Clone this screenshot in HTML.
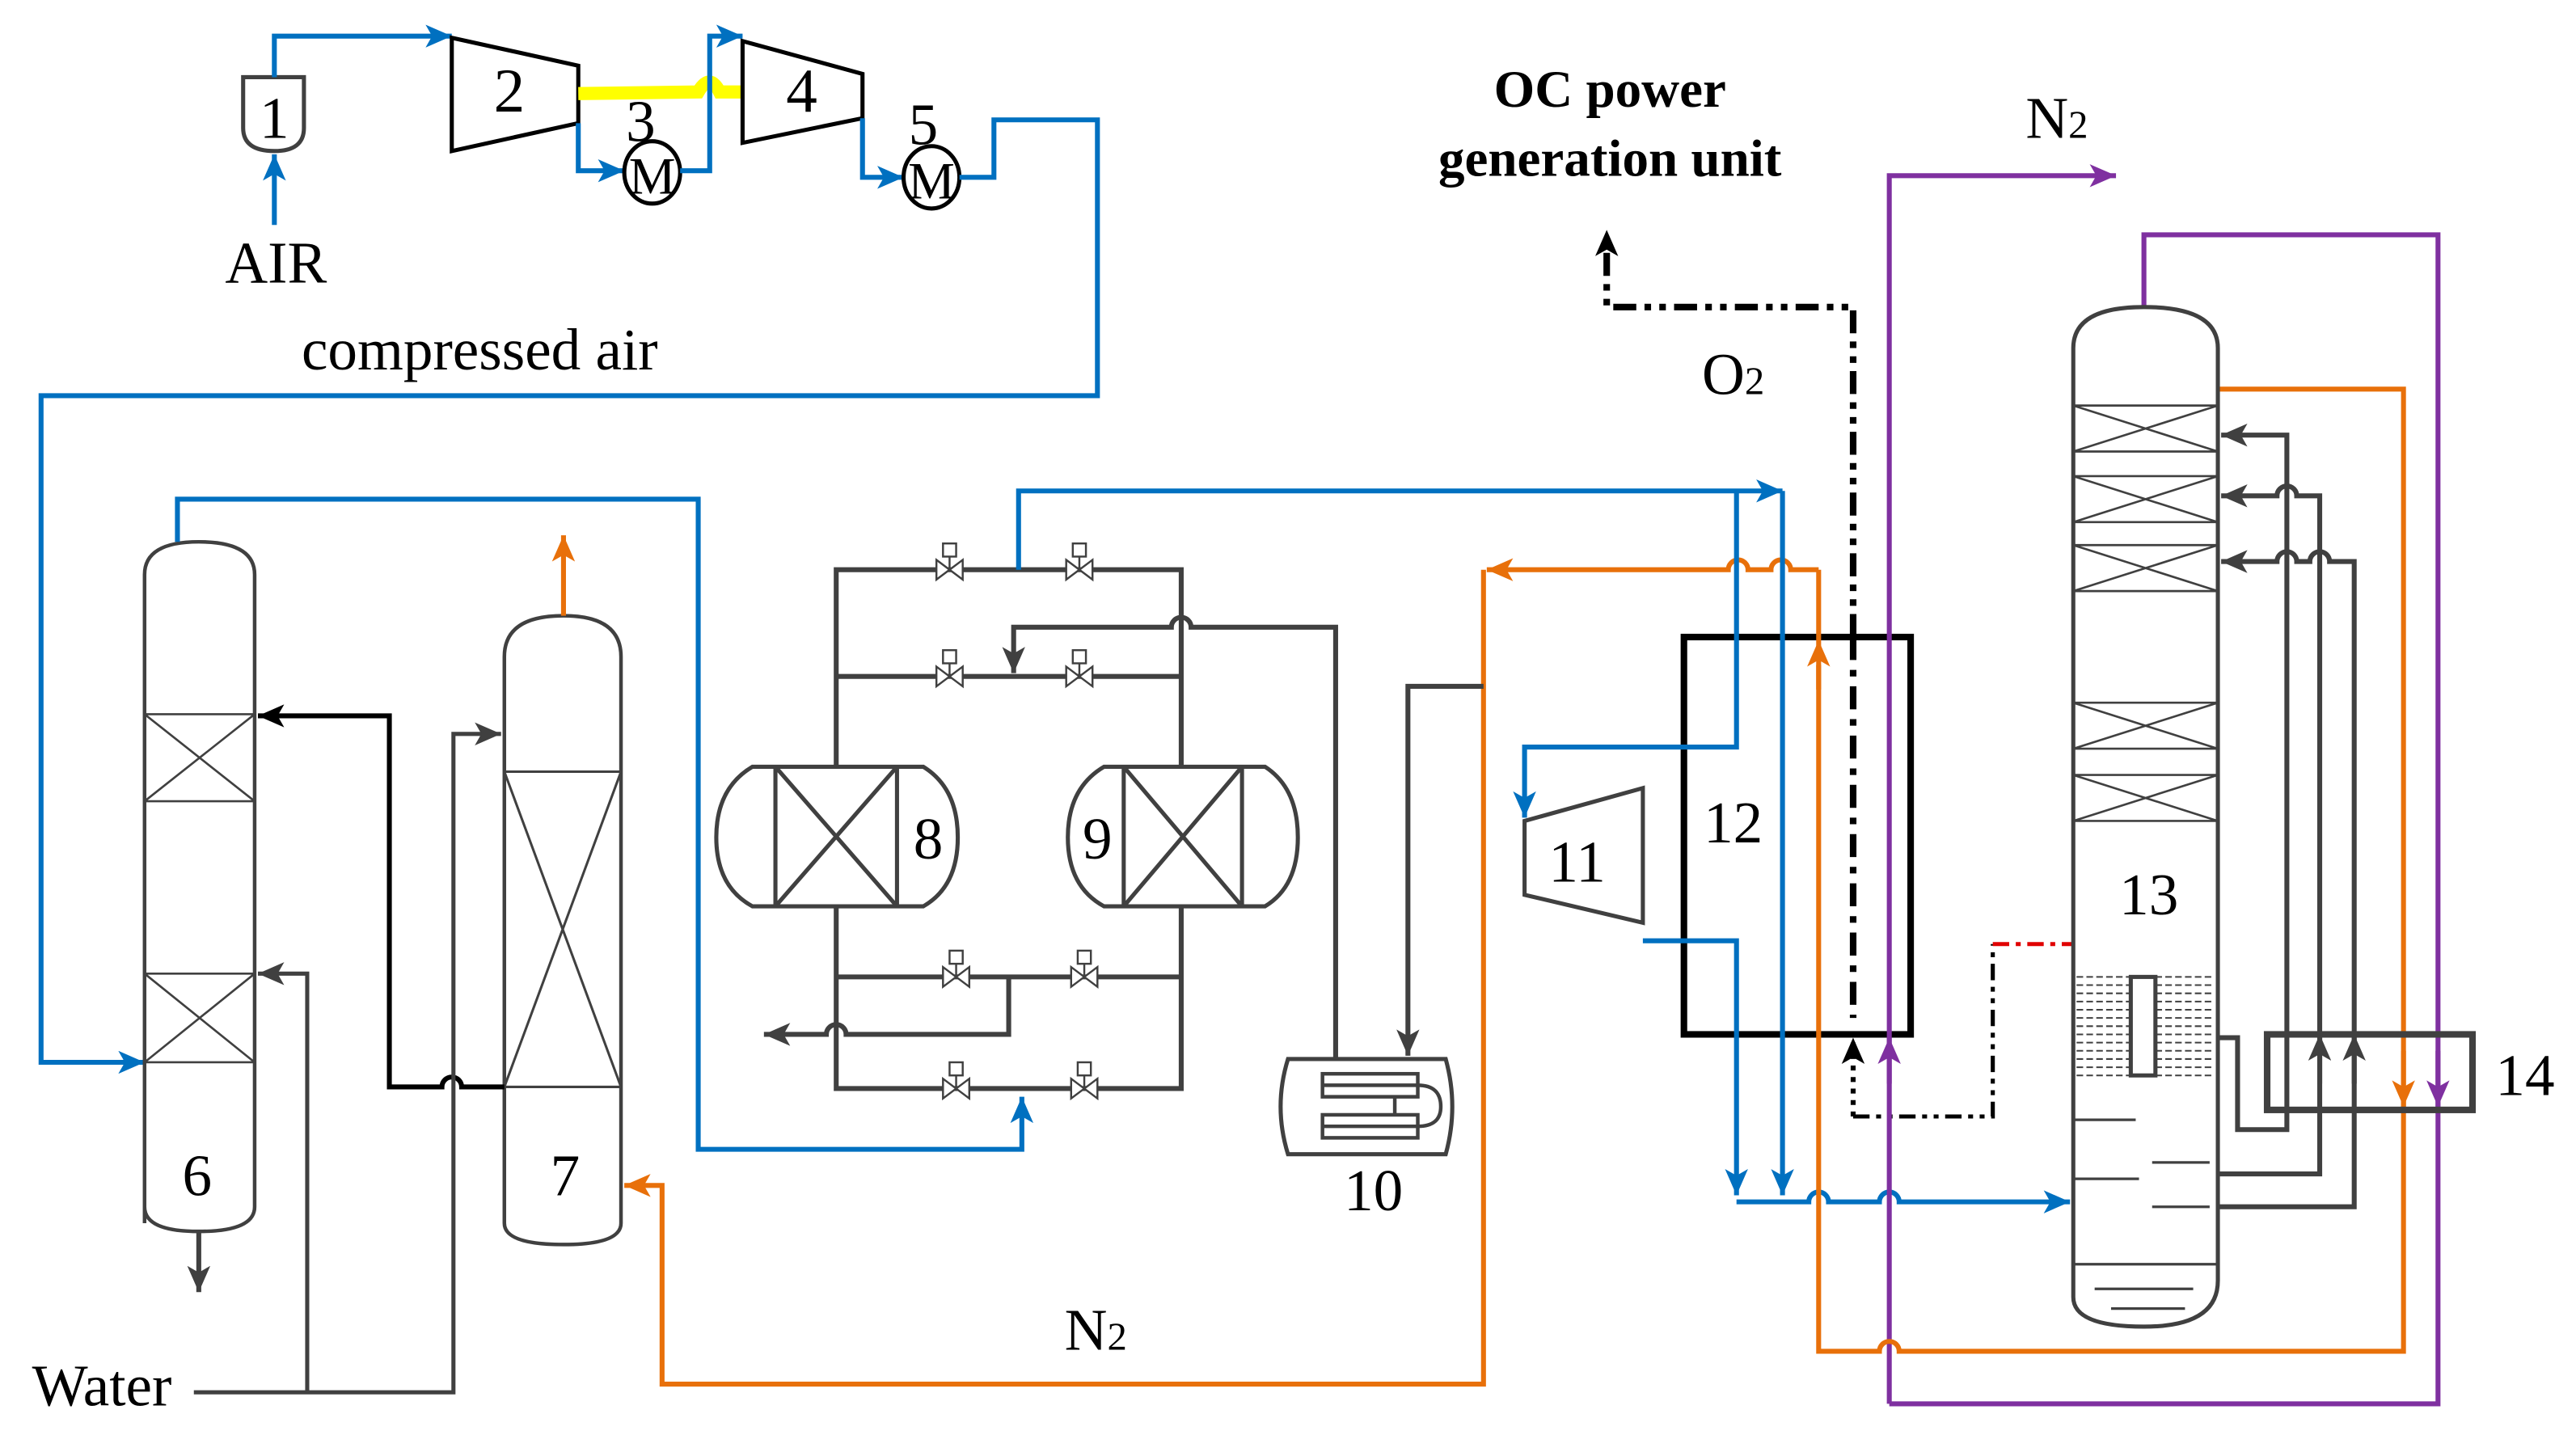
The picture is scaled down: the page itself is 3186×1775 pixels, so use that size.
<!DOCTYPE html>
<html><head><meta charset="utf-8"><style>
html,body{margin:0;padding:0;background:#fff;}
svg{display:block;}
text{font-family:"Liberation Serif","Times New Roman",Times,serif;fill:#000;}
</style></head><body>
<svg width="3186" height="1775" viewBox="0 0 1568 874" preserveAspectRatio="none" xmlns="http://www.w3.org/2000/svg" font-family="Liberation Serif, Times New Roman, serif">
<defs>
<marker id="ab" markerUnits="userSpaceOnUse" markerWidth="18" markerHeight="14" refX="16" refY="7" orient="auto"><path d="M0,0 L16,7 L0,14 L4,7 Z" fill="#0070C0"/></marker>
<marker id="ao" markerUnits="userSpaceOnUse" markerWidth="18" markerHeight="14" refX="16" refY="7" orient="auto"><path d="M0,0 L16,7 L0,14 L4,7 Z" fill="#E8700A"/></marker>
<marker id="ap" markerUnits="userSpaceOnUse" markerWidth="18" markerHeight="14" refX="16" refY="7" orient="auto"><path d="M0,0 L16,7 L0,14 L4,7 Z" fill="#7F30A0"/></marker>
<marker id="ag" markerUnits="userSpaceOnUse" markerWidth="18" markerHeight="14" refX="16" refY="7" orient="auto"><path d="M0,0 L16,7 L0,14 L4,7 Z" fill="#404040"/></marker>
<marker id="ak" markerUnits="userSpaceOnUse" markerWidth="18" markerHeight="14" refX="16" refY="7" orient="auto"><path d="M0,0 L16,7 L0,14 L4,7 Z" fill="#000"/></marker>
<g id="valve"><path d="M-8,-6 L8,6 L8,-6 L-8,6 Z" fill="#fff" stroke="#404040" stroke-width="1.2"/><line x1="0" y1="0" x2="0" y2="-8" stroke="#404040" stroke-width="1.2"/><rect x="-4" y="-16" width="8" height="8" fill="#fff" stroke="#404040" stroke-width="1.2"/></g>
</defs>

<!-- top compression train -->
<path d="M148,47 L185,47 L185,78 Q185,92 167,92 Q148,92 148,78 Z" fill="none" stroke="#404040" stroke-width="2.5"/>
<text x="167" y="84" font-size="36" text-anchor="middle">1</text>
<line x1="167" y1="137" x2="167" y2="94" stroke="#0070C0" stroke-width="3" marker-end="url(#ab)"/>
<text x="168" y="172" font-size="36" text-anchor="middle">AIR</text>
<polyline points="167,47 167,22 275,22" fill="none" stroke="#0070C0" stroke-width="3" marker-end="url(#ab)"/>
<polygon points="275,23 352,40 352,75 275,92" fill="none" stroke="#000" stroke-width="2.5"/>
<text x="310" y="68" font-size="38" text-anchor="middle">2</text>
<path d="M352,57 L425,56 Q432,44 438,56 L452,56" fill="none" stroke="#FFFF00" stroke-width="8"/>
<polyline points="352,75 352,104 380,104" fill="none" stroke="#0070C0" stroke-width="3" marker-end="url(#ab)"/>
<ellipse cx="397" cy="105" rx="17" ry="19" fill="none" stroke="#000" stroke-width="2.5"/>
<text x="397" y="118" font-size="32" text-anchor="middle">M</text>
<text x="390" y="86" font-size="36" text-anchor="middle">3</text>
<polyline points="414,104 432,104 432,22 452,22" fill="none" stroke="#0070C0" stroke-width="3" marker-end="url(#ab)"/>
<polygon points="452,25 525,45 525,72 452,87" fill="none" stroke="#000" stroke-width="2.5"/>
<text x="488" y="68" font-size="38" text-anchor="middle">4</text>
<polyline points="525,72 525,108 550,108" fill="none" stroke="#0070C0" stroke-width="3" marker-end="url(#ab)"/>
<ellipse cx="567" cy="108" rx="17" ry="19" fill="none" stroke="#000" stroke-width="2.5"/>
<text x="567" y="121" font-size="32" text-anchor="middle">M</text>
<text x="562" y="88" font-size="36" text-anchor="middle">5</text>
<polyline points="584,108 605,108 605,73 668,73 668,241 25,241 25,647 88,647" fill="none" stroke="#0070C0" stroke-width="3" marker-end="url(#ab)"/>
<text x="292" y="225" font-size="36" text-anchor="middle">compressed air</text>

<!-- column 6 -->
<path d="M88,745 L88,350 Q88,330 121,330 Q155,330 155,350 L155,735 Q155,750 121,750 Q88,750 88,735" fill="none" stroke="#404040" stroke-width="2.2"/>
<g stroke="#404040" stroke-width="1.3" fill="none">
<path d="M88,435 H155 M88,488 H155 M88,435 L155,488 M155,435 L88,488"/>
<path d="M88,593 H155 M88,647 H155 M88,593 L155,647 M155,593 L88,647"/>
</g>
<text x="120" y="728" font-size="36" text-anchor="middle">6</text>
<line x1="121" y1="750" x2="121" y2="787" stroke="#404040" stroke-width="3" marker-end="url(#ag)"/>
<polyline points="108,330 108,304 425,304 425,700 622,700 622,668" fill="none" stroke="#0070C0" stroke-width="3" marker-end="url(#ab)"/>

<!-- column 7 -->
<path d="M307,745 L307,400 Q307,375 343,375 Q378,375 378,400 L378,745 Q378,758 343,758 Q307,758 307,745" fill="none" stroke="#404040" stroke-width="2.2"/>
<g stroke="#404040" stroke-width="1.5" fill="none">
<path d="M307,470 H378 M307,662 H378 M307,470 L378,662 M378,470 L307,662"/>
</g>
<text x="344" y="728" font-size="36" text-anchor="middle">7</text>
<line x1="343" y1="375" x2="343" y2="326" stroke="#E8700A" stroke-width="3" marker-end="url(#ao)"/>
<path d="M307,662 L281,662 a6,6 0 0 0 -12,0 L237,662 L237,436 L157,436" fill="none" stroke="#000" stroke-width="3" marker-end="url(#ak)"/>
<text x="62" y="856" font-size="36" text-anchor="middle">Water</text>
<polyline points="118,848 276,848 276,447 305,447" fill="none" stroke="#404040" stroke-width="2.5" marker-end="url(#ag)"/>
<polyline points="187,848 187,593 157,593" fill="none" stroke="#404040" stroke-width="2.5" marker-end="url(#ag)"/>

<!-- orange N2 loop -->
<path d="M1107,347 L1090,347 a6,6 0 0 0 -12,0 L1064,347 a6,6 0 0 0 -12,0 L905,347" fill="none" stroke="#E8700A" stroke-width="3" marker-end="url(#ao)"/>
<polyline points="903,347 903,843 403,843 403,722 380,722" fill="none" stroke="#E8700A" stroke-width="3" marker-end="url(#ao)"/>
<text x="667" y="822" font-size="36" text-anchor="middle">N<tspan font-size="24">2</tspan></text>

<!-- adsorber valve block -->
<g stroke="#404040" stroke-width="3" fill="none">
<path d="M509,467 V347 H719 V467"/>
<path d="M509,412 H719"/>
<path d="M509,552 V663 H719 V552"/>
<path d="M509,595 H719"/>
<path d="M614,595 V630 H515 a6,6 0 0 0 -12,0 H465" marker-end="url(#ag)"/>
<path d="M813,645 V382 H725 a6,6 0 0 0 -12,0 H617 V410" marker-end="url(#ag)"/>
<path d="M903,418 H857 V643" marker-end="url(#ag)"/>
</g>
<polyline points="620,347 620,299 1085,299" fill="none" stroke="#0070C0" stroke-width="3" marker-end="url(#ab)"/>
<use href="#valve" x="578" y="347"/><use href="#valve" x="657" y="347"/>
<use href="#valve" x="578" y="412"/><use href="#valve" x="657" y="412"/>
<use href="#valve" x="582" y="595"/><use href="#valve" x="660" y="595"/>
<use href="#valve" x="582" y="663"/><use href="#valve" x="660" y="663"/>
<!-- 8 -->
<path d="M458,467 L562,467 Q583,480 583,510 Q583,540 562,552 L458,552 Q436,540 436,510 Q436,480 458,467 Z" fill="#fff" stroke="#404040" stroke-width="2.5"/>
<path d="M472,467 V552 M546,467 V552 M472,467 L546,552 M546,467 L472,552" stroke="#404040" stroke-width="2.5"/>
<text x="565" y="523" font-size="36" text-anchor="middle">8</text>
<!-- 9 -->
<path d="M672,467 L770,467 Q790,480 790,510 Q790,540 770,552 L672,552 Q650,540 650,510 Q650,480 672,467 Z" fill="#fff" stroke="#404040" stroke-width="2.5"/>
<path d="M684,467 V552 M756,467 V552 M684,467 L756,552 M756,467 L684,552" stroke="#404040" stroke-width="2.5"/>
<text x="668" y="523" font-size="36" text-anchor="middle">9</text>
<!-- 10 -->
<path d="M784,645 L880,645 Q888,674 880,703 L784,703 Q775,674 784,645 Z" fill="#fff" stroke="#404040" stroke-width="2.5"/>
<g stroke="#404040" stroke-width="2.2" fill="none">
<rect x="805" y="654" width="58" height="14"/><line x1="805" y1="661" x2="863" y2="661"/>
<rect x="805" y="679" width="58" height="14"/><line x1="805" y1="686" x2="863" y2="686"/>
<path d="M863,661 Q877,661 877,674 Q877,686 863,686"/>
<line x1="849" y1="668" x2="849" y2="679"/>
</g>
<text x="836" y="737" font-size="36" text-anchor="middle">10</text>

<!-- 11 & 12 -->
<polygon points="928,500 1000,480 1000,562 928,545" fill="none" stroke="#404040" stroke-width="2.5"/>
<text x="960" y="537" font-size="36" text-anchor="middle">11</text>
<rect x="1025" y="388" width="138" height="242" fill="none" stroke="#000" stroke-width="4"/>
<text x="1055" y="513" font-size="36" text-anchor="middle">12</text>
<polyline points="1057,299 1057,455 928,455 928,498" fill="none" stroke="#0070C0" stroke-width="3" marker-end="url(#ab)"/>
<polyline points="1000,573 1057,573 1057,728" fill="none" stroke="#0070C0" stroke-width="3" marker-end="url(#ab)"/>
<line x1="1085" y1="299" x2="1085" y2="728" stroke="#0070C0" stroke-width="3" marker-end="url(#ab)"/>
<path d="M1057,732 L1101,732 a6,6 0 0 1 12,0 L1144,732 a6,6 0 0 1 12,0 L1260,732" fill="none" stroke="#0070C0" stroke-width="3" marker-end="url(#ab)"/>

<!-- O2 dash-dot -->
<polyline points="1128,388 1128,187 978,187 978,140" fill="none" stroke="#000" stroke-width="4" stroke-dasharray="14,5,4,5,4,5" marker-end="url(#ak)"/>
<line x1="1128" y1="388" x2="1128" y2="620" stroke="#000" stroke-width="4" stroke-dasharray="14,6,4,6"/>
<polyline points="1128,680 1128,632" fill="none" stroke="#000" stroke-width="3" stroke-dasharray="3,4" marker-end="url(#ak)"/>
<polyline points="1128,680 1213,680 1213,575" fill="none" stroke="#000" stroke-width="2.5" stroke-dasharray="10,4,3,4,3,4"/>
<line x1="1213" y1="575" x2="1262" y2="575" stroke="#E00000" stroke-width="2.5" stroke-dasharray="10,4,3,4"/>
<text x="1055" y="240" font-size="36" text-anchor="middle">O<tspan font-size="24">2</tspan></text>
<text x="980" y="65" font-size="32" font-weight="bold" text-anchor="middle">OC power</text>
<text x="980" y="107" font-size="32" font-weight="bold" text-anchor="middle">generation unit</text>

<!-- purple -->
<polyline points="1150,855 1150,107 1288,107" fill="none" stroke="#7F30A0" stroke-width="3" marker-end="url(#ap)"/>
<line x1="1150" y1="660" x2="1150" y2="632" stroke="#7F30A0" stroke-width="3" marker-end="url(#ap)"/>
<polyline points="1150,855 1484,855 1484,143 1305,143 1305,187" fill="none" stroke="#7F30A0" stroke-width="3"/>
<line x1="1484" y1="640" x2="1484" y2="674" stroke="#7F30A0" stroke-width="3" marker-end="url(#ap)"/>
<text x="1252" y="84" font-size="36" text-anchor="middle">N<tspan font-size="24">2</tspan></text>

<!-- orange right loop -->
<path d="M1107,405 L1107,823 L1144,823 a6,6 0 0 1 12,0 L1463,823 L1463,237 L1350,237" fill="none" stroke="#E8700A" stroke-width="3"/>
<line x1="1107" y1="420" x2="1107" y2="390" stroke="#E8700A" stroke-width="3" marker-end="url(#ao)"/>
<line x1="1107" y1="347" x2="1107" y2="390" stroke="#E8700A" stroke-width="3"/>
<line x1="1463" y1="640" x2="1463" y2="674" stroke="#E8700A" stroke-width="3" marker-end="url(#ao)"/>

<!-- column 13 -->
<path d="M1262,790 L1262,212 Q1262,187 1305,187 Q1350,187 1350,212 L1350,780 Q1350,808 1305,808 Q1262,808 1262,790 Z" fill="none" stroke="#404040" stroke-width="2.5"/>
<g stroke="#404040" stroke-width="1.3" fill="none">
<path d="M1262,247 H1350 M1262,275 H1350 M1262,247 L1350,275 M1350,247 L1262,275"/>
<path d="M1262,290 H1350 M1262,318 H1350 M1262,290 L1350,318 M1350,290 L1262,318"/>
<path d="M1262,332 H1350 M1262,360 H1350 M1262,332 L1350,360 M1350,332 L1262,360"/>
<path d="M1262,428 H1350 M1262,456 H1350 M1262,428 L1350,456 M1350,428 L1262,456"/>
<path d="M1262,472 H1350 M1262,500 H1350 M1262,472 L1350,500 M1350,472 L1262,500"/>
<path d="M1262,682 H1300 M1310,708 H1345 M1262,718 H1302 M1310,735 H1345 M1262,770 H1350 M1275,785 H1335 M1285,797 H1330" stroke-width="1.6"/>
</g>
<g stroke="#404040" stroke-width="1" stroke-dasharray="4,2">
<path d="M1264,595 H1348 M1264,600 H1348 M1264,605 H1348 M1264,610 H1348 M1264,615 H1348 M1264,620 H1348 M1264,625 H1348 M1264,630 H1348 M1264,635 H1348 M1264,640 H1348 M1264,645 H1348 M1264,650 H1348 M1264,655 H1348"/>
</g>
<rect x="1297" y="595" width="15" height="60" fill="#fff" stroke="#404040" stroke-width="2.5"/>
<text x="1308" y="557" font-size="36" text-anchor="middle">13</text>

<!-- 14 and returns -->
<rect x="1380" y="630" width="125" height="46" fill="none" stroke="#404040" stroke-width="4"/>
<text x="1537" y="667" font-size="36" text-anchor="middle">14</text>
<g stroke="#404040" stroke-width="3" fill="none">
<path d="M1350,632 H1362 V688 H1392 V265 H1352" marker-end="url(#ag)"/>
<path d="M1350,715 H1412 V302 H1398 a6,6 0 0 0 -12,0 H1352" marker-end="url(#ag)"/>
<path d="M1350,735 H1433 V342 H1418 a6,6 0 0 0 -12,0 H1398 a6,6 0 0 0 -12,0 H1352" marker-end="url(#ag)"/>
<line x1="1412" y1="660" x2="1412" y2="630" marker-end="url(#ag)"/>
<line x1="1433" y1="660" x2="1433" y2="630" marker-end="url(#ag)"/>
</g>
</svg>
</body></html>
